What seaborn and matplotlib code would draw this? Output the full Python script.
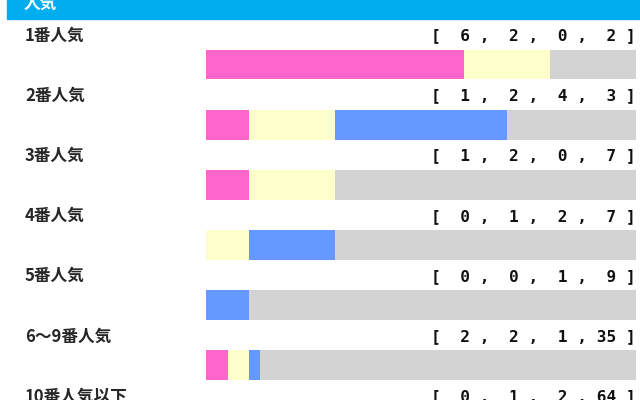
import pandas as pd
import seaborn as sns
import matplotlib.pyplot as plt
import matplotlib.transforms as mtransforms
from matplotlib.patches import Rectangle

header = '人気'
categories = ['1番人気', '2番人気', '3番人気', '4番人気', '5番人気', '6～9番人気', '10番人気以下']
wins = [6, 1, 1, 0, 0, 2, 0]
seconds = [2, 2, 2, 1, 0, 2, 1]
thirds = [0, 4, 0, 2, 1, 1, 2]
others = [2, 3, 7, 7, 9, 35, 64]

pink = '#FF66CC'
yellow = '#FFFFCC'
blue = '#6699FF'
grey = '#D3D3D3'

df = pd.DataFrame({'label': categories, 'w': wins, 's': seconds, 't': thirds, 'o': others})
total = df[['w', 's', 't', 'o']].sum(axis=1)
df['c1'] = df['w'] / total
df['c2'] = (df['w'] + df['s']) / total
df['c3'] = (df['w'] + df['s'] + df['t']) / total
df['c4'] = total / total

sns.set_theme(style='white')
plt.rcParams['font.family'] = ['Noto Sans CJK JP', 'DejaVu Sans']

fig = plt.figure(figsize=(6.4, 4.0), dpi=100)
ax = fig.add_axes([206 / 640, 0, 430 / 640, 1])

# stacked bars: draw longest cumulative first
for col, color in [('c4', grey), ('c3', blue), ('c2', yellow), ('c1', pink)]:
    sns.barplot(data=df, y='label', x=col, orient='h', color=color,
                width=0.49, saturation=1, ax=ax, linewidth=0)

ax.set_xlim(0, 1)
ax.set_ylim(5.579, -1.077)
ax.axis('off')

# header band
fig.patches.append(Rectangle((7 / 640, 1 - 19 / 400), 1, 19 / 400,
                             transform=fig.transFigure, color='#00AEEF', zorder=0))
fig.text(24 / 640, 1 - 4 / 400, header, color='white', fontsize=12,
         fontweight='bold', va='center', ha='left')

trans = mtransforms.blended_transform_factory(fig.transFigure, ax.transData)
for i, row in df.iterrows():
    ax.text(25 / 640, i - 0.48, row['label'], transform=trans, fontsize=12,
            fontweight='bold', va='center', ha='left', clip_on=False)
    nums = '[{:>3} ,{:>3} ,{:>3} ,{:>3} ]'.format(row['w'], row['s'], row['t'], row['o'])
    ax.text(636 / 640, i - 0.48, nums, transform=trans, fontsize=11.6,
            fontweight='bold', va='center', ha='right', clip_on=False,
            family='DejaVu Sans Mono', color='#111111')

fig.savefig('out.png', dpi=100)
